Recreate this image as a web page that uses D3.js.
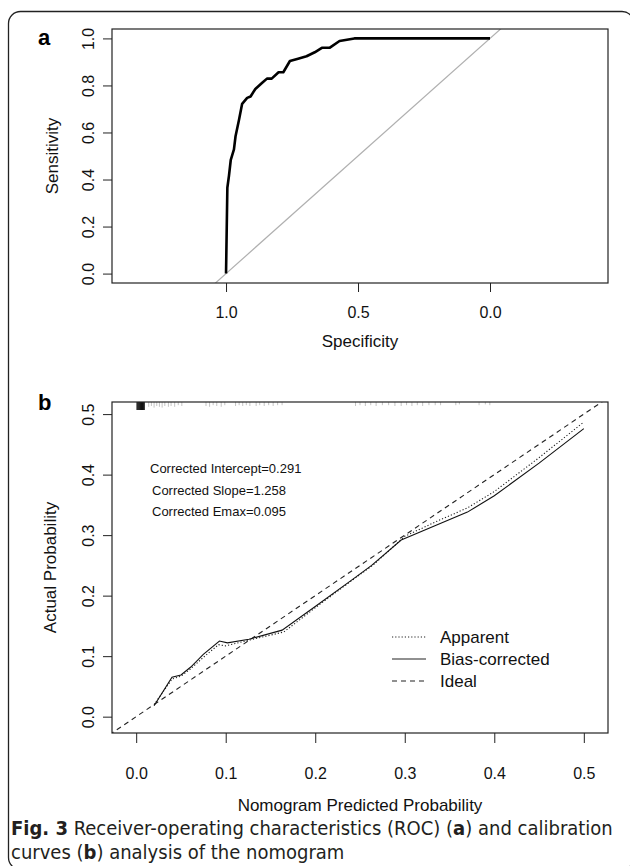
<!DOCTYPE html>
<html>
<head>
<meta charset="utf-8">
<script src="https://cdnjs.cloudflare.com/ajax/libs/d3/7.8.5/d3.min.js"></script>
<style>
  html, body { margin: 0; padding: 0; background: #fff; }
  svg { display: block; }
  .axis text { font-family: "Liberation Sans", Arial, sans-serif; font-size: 16px; fill: #111; }
  .axis line { stroke: #222; }
</style>
</head>
<body>
<div id="chart"></div>
<script>
// ROC curve (panel a): specificity / sensitivity pairs
const rocSpec = [1.0, 0.995, 0.989, 0.982, 0.97, 0.964, 0.951, 0.939, 0.92, 0.907, 0.889, 0.864, 0.845, 0.827, 0.801, 0.783, 0.758, 0.727, 0.695, 0.664, 0.637, 0.608, 0.57, 0.514, 0.0];
const rocSens = [0.0, 0.365, 0.415, 0.484, 0.528, 0.584, 0.653, 0.722, 0.747, 0.753, 0.785, 0.81, 0.829, 0.829, 0.856, 0.856, 0.904, 0.914, 0.924, 0.941, 0.96, 0.96, 0.989, 1.0, 1.0];
const specTicks = [1.0, 0.5, 0.0];
const sensTicks = [0.0, 0.2, 0.4, 0.6, 0.8, 1.0];

// Calibration curves (panel b)
const apparentX = [0.02, 0.04, 0.05, 0.06, 0.075, 0.092, 0.1, 0.125, 0.165, 0.2, 0.24, 0.265, 0.3, 0.333, 0.37, 0.4, 0.45, 0.5];
const apparentY = [0.02, 0.062, 0.067, 0.078, 0.098, 0.119, 0.117, 0.126, 0.14, 0.18, 0.224, 0.251, 0.298, 0.321, 0.345, 0.372, 0.428, 0.487];
const biasX = [0.02, 0.04, 0.05, 0.061, 0.075, 0.093, 0.102, 0.126, 0.163, 0.2, 0.241, 0.263, 0.296, 0.333, 0.37, 0.4, 0.45, 0.5];
const biasY = [0.018, 0.065, 0.069, 0.082, 0.103, 0.125, 0.122, 0.128, 0.143, 0.182, 0.226, 0.25, 0.292, 0.315, 0.338, 0.365, 0.419, 0.476];
const probTicks = [0.0, 0.1, 0.2, 0.3, 0.4, 0.5];

// distribution of predicted probabilities shown along the top (rug)
const rugX = [0.001, 0.002, 0.003, 0.004, 0.005, 0.006, 0.007, 0.008, 0.009,
  0.014, 0.017, 0.020, 0.023, 0.026, 0.029, 0.032, 0.036, 0.039, 0.043, 0.047, 0.051,
  0.078, 0.082, 0.086, 0.090, 0.095, 0.099,
  0.111, 0.115, 0.119, 0.123, 0.127,
  0.134, 0.138, 0.143, 0.148, 0.153, 0.158, 0.163,
  0.245, 0.250, 0.256, 0.262, 0.268, 0.275, 0.282, 0.289,
  0.296, 0.302, 0.308, 0.314, 0.320, 0.327, 0.334, 0.340,
  0.357, 0.361, 0.383, 0.390, 0.395];
const rugH = [1, 1, 1, 1, 1, 1, 1, 1, 1,
  0.6, 0.5, 0.7, 0.5, 0.6, 0.7, 0.5, 0.6, 0.5, 0.6, 0.4, 0.5,
  0.5, 0.6, 0.4, 0.5, 0.6, 0.4,
  0.5, 0.4, 0.5, 0.4, 0.5,
  0.5, 0.4, 0.5, 0.4, 0.5, 0.4, 0.4,
  0.5, 0.4, 0.5, 0.4, 0.5, 0.4, 0.4, 0.5,
  0.5, 0.4, 0.5, 0.4, 0.5, 0.4, 0.4, 0.4,
  0.4, 0.3, 0.4, 0.3, 0.4];

const legendItems = [
  { label: 'Apparent', dash: '1.2,2' },
  { label: 'Bias-corrected', dash: null },
  { label: 'Ideal', dash: '5,4' }
];
const statLines = ['Corrected Intercept=0.291', 'Corrected Slope=1.258', 'Corrected Emax=0.095'];

const W = 630, H = 866;
const svg = d3.select('#chart').append('svg')
  .attr('width', W).attr('height', H)
  .style('font-family', '"Liberation Sans", Arial, sans-serif');

// outer frame (right edge just off the page)
svg.append('rect')
  .attr('x', 8.5).attr('y', 11.5)
  .attr('width', 625.5).attr('height', 858)
  .attr('rx', 12)
  .attr('fill', 'none').attr('stroke', '#222').attr('stroke-width', 1.3);

function yTicksRotated(g, offset) {
  g.selectAll('.tick text')
    .attr('x', 0).attr('y', 0).attr('dy', '0.36em')
    .attr('text-anchor', 'middle')
    .attr('transform', `translate(${-offset},0) rotate(-90)`);
}

// ---------- panel a ----------
const a = { left: 112, right: 608, top: 29, bottom: 283 };
const xA = d3.scaleLinear().domain([1.432, -0.447]).range([a.left, a.right]);
const yA = d3.scaleLinear().domain([-0.04, 1.04]).range([a.bottom, a.top]);

const gA = svg.append('g');

gA.append('g').attr('class', 'axis')
  .attr('transform', `translate(0,${a.bottom})`)
  .call(d3.axisBottom(xA).tickValues(specTicks).tickFormat(d3.format('.1f')).tickSize(9).tickPadding(15))
  .call(g => g.select('.domain').remove());

gA.append('g').attr('class', 'axis')
  .attr('transform', `translate(${a.left},0)`)
  .call(d3.axisLeft(yA).tickValues(sensTicks).tickFormat(d3.format('.1f')).tickSize(9))
  .call(g => g.select('.domain').remove())
  .call(g => yTicksRotated(g, 24));

// chance diagonal, clipped to the box
gA.append('clipPath').attr('id', 'clipA').append('rect')
  .attr('x', a.left).attr('y', a.top).attr('width', a.right - a.left).attr('height', a.bottom - a.top);
gA.append('line')
  .attr('clip-path', 'url(#clipA)')
  .attr('x1', xA(1.05)).attr('y1', yA(-0.05))
  .attr('x2', xA(-0.05)).attr('y2', yA(1.05))
  .attr('stroke', '#b0b0b0').attr('stroke-width', 1.2);

const rocPts = rocSpec.map((s, i) => [s, rocSens[i]]);
gA.append('path')
  .datum(rocPts)
  .attr('fill', 'none').attr('stroke', '#000').attr('stroke-width', 2.6)
  .attr('stroke-linejoin', 'round')
  .attr('d', d3.line().x(d => xA(d[0])).y(d => yA(d[1])));

gA.append('rect')
  .attr('x', a.left).attr('y', a.top).attr('width', a.right - a.left).attr('height', a.bottom - a.top)
  .attr('fill', 'none').attr('stroke', '#222').attr('stroke-width', 1.2);

gA.append('text').attr('x', (a.left + a.right) / 2).attr('y', 347)
  .attr('text-anchor', 'middle').attr('font-size', 17).attr('fill', '#111').text('Specificity');
gA.append('text').attr('transform', `translate(58,${(a.top + a.bottom) / 2}) rotate(-90)`)
  .attr('text-anchor', 'middle').attr('font-size', 17).attr('fill', '#111').text('Sensitivity');
gA.append('text').attr('x', 38).attr('y', 45)
  .attr('font-size', 22).attr('font-weight', 'bold').attr('fill', '#000').text('a');

// ---------- panel b ----------
const b = { left: 112, right: 608, top: 402, bottom: 733 };
const xB = d3.scaleLinear().domain([-0.027, 0.527]).range([b.left, b.right]);
const yB = d3.scaleLinear().domain([-0.027, 0.52]).range([b.bottom, b.top]);

const gB = svg.append('g');

gB.append('g').attr('class', 'axis')
  .attr('transform', `translate(0,${b.bottom})`)
  .call(d3.axisBottom(xB).tickValues(probTicks).tickFormat(d3.format('.1f')).tickSize(10).tickPadding(25))
  .call(g => g.select('.domain').remove());

gB.append('g').attr('class', 'axis')
  .attr('transform', `translate(${b.left},0)`)
  .call(d3.axisLeft(yB).tickValues(probTicks).tickFormat(d3.format('.1f')).tickSize(9))
  .call(g => g.select('.domain').remove())
  .call(g => yTicksRotated(g, 24));

// rug of predicted values hanging from the top edge
const rugLen = d3.scaleLinear().domain([0, 1]).range([0, 8]);
gB.append('g').selectAll('line')
  .data(rugX.map((v, i) => ({ v, h: rugH[i] })))
  .join('line')
  .attr('x1', d => xB(d.v)).attr('x2', d => xB(d.v))
  .attr('y1', b.top).attr('y2', d => b.top + rugLen(d.h))
  .attr('stroke', d => d.h >= 1 ? '#111' : '#aaa')
  .attr('stroke-width', d => d.h >= 1 ? 1.2 : 0.7);

// ideal line, clipped to the box
gB.append('clipPath').attr('id', 'clipB').append('rect')
  .attr('x', b.left).attr('y', b.top).attr('width', b.right - b.left).attr('height', b.bottom - b.top);
gB.append('line')
  .attr('clip-path', 'url(#clipB)')
  .attr('x1', xB(-0.03)).attr('y1', yB(-0.03))
  .attr('x2', xB(0.53)).attr('y2', yB(0.53))
  .attr('stroke', '#222').attr('stroke-width', 1.1).attr('stroke-dasharray', '5,4');

const lineB = d3.line().x(d => xB(d[0])).y(d => yB(d[1]));
gB.append('path')
  .datum(apparentX.map((x, i) => [x, apparentY[i]]))
  .attr('fill', 'none').attr('stroke', '#222').attr('stroke-width', 1.1)
  .attr('stroke-dasharray', '1.2,2').attr('d', lineB);
gB.append('path')
  .datum(biasX.map((x, i) => [x, biasY[i]]))
  .attr('fill', 'none').attr('stroke', '#111').attr('stroke-width', 1.1)
  .attr('d', lineB);

gB.append('rect')
  .attr('x', b.left).attr('y', b.top).attr('width', b.right - b.left).attr('height', b.bottom - b.top)
  .attr('fill', 'none').attr('stroke', '#222').attr('stroke-width', 1.2);

// statistics text
gB.append('g').selectAll('text')
  .data(statLines)
  .join('text')
  .attr('x', (d, i) => i === 0 ? 150 : 152)
  .attr('y', (d, i) => 473 + i * 21.5)
  .attr('font-size', 13).attr('fill', '#111')
  .text(d => d);

// legend
const leg = gB.append('g').attr('transform', 'translate(392,637)');
legendItems.forEach((it, i) => {
  const row = leg.append('g').attr('transform', `translate(0,${i * 22})`);
  row.append('line').attr('x1', 0).attr('x2', 34).attr('y1', 0).attr('y2', 0)
    .attr('stroke', '#222').attr('stroke-width', 1.1)
    .attr('stroke-dasharray', it.dash);
  row.append('text').attr('x', 48).attr('y', 6)
    .attr('font-size', 17).attr('fill', '#111').text(it.label);
});

gB.append('text').attr('x', (b.left + b.right) / 2).attr('y', 811)
  .attr('text-anchor', 'middle').attr('font-size', 17).attr('fill', '#111').text('Nomogram Predicted Probability');
gB.append('text').attr('transform', `translate(56,${(b.top + b.bottom) / 2}) rotate(-90)`)
  .attr('text-anchor', 'middle').attr('font-size', 17).attr('fill', '#111').text('Actual Probability');
gB.append('text').attr('x', 38).attr('y', 410)
  .attr('font-size', 22).attr('font-weight', 'bold').attr('fill', '#000').text('b');

// caption
const cap = svg.append('g')
  .style('font-family', '"Liberation Sans Narrow", "DejaVu Sans Condensed", sans-serif')
  .attr('font-size', 20).attr('fill', '#231f20');
const c1 = cap.append('text').attr('x', 11).attr('y', 835);
c1.append('tspan').attr('font-weight', 'bold').text('Fig. 3');
c1.append('tspan').text('  Receiver-operating characteristics (ROC) (');
c1.append('tspan').attr('font-weight', 'bold').text('a');
c1.append('tspan').text(') and calibration');
const c2 = cap.append('text').attr('x', 11).attr('y', 859);
c2.append('tspan').text('curves (');
c2.append('tspan').attr('font-weight', 'bold').text('b');
c2.append('tspan').text(') analysis of the nomogram');
</script>
</body>
</html>
